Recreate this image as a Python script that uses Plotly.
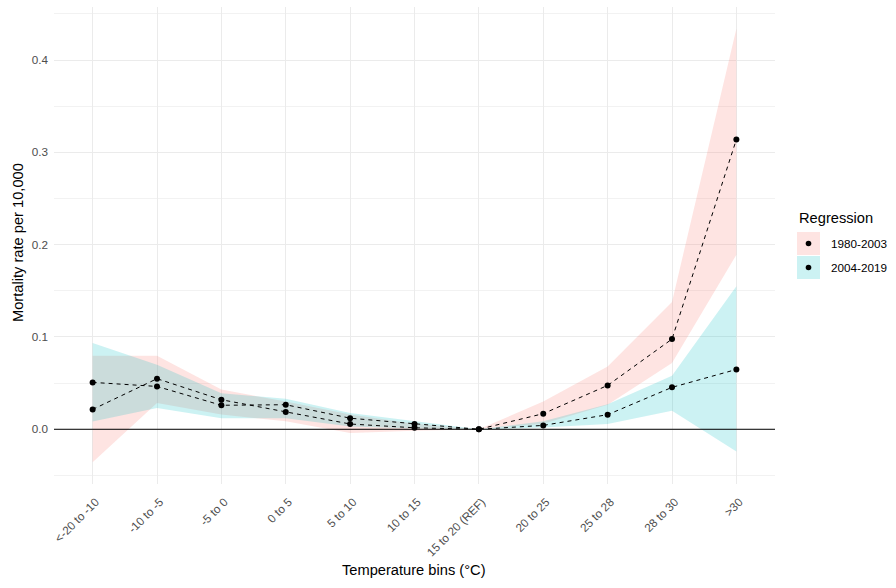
import plotly.graph_objects as go

# ---------------- data ----------------
categories = ["<-20 to -10", "-10 to -5", "-5 to 0", "0 to 5", "5 to 10", "10 to 15",
              "15 to 20 (REF)", "20 to 25", "25 to 28", "28 to 30", ">30"]

est_1980_2003 = [0.0215, 0.0548, 0.032, 0.0187, 0.0057, 0.0016, 0.0, 0.0169, 0.0475, 0.0977, 0.314]
low_1980_2003 = [-0.0358, 0.0285, 0.016, 0.0086, -0.004, -0.0015, 0.0, 0.006, 0.0266, 0.0717, 0.189]
high_1980_2003 = [0.0797, 0.0797, 0.043, 0.030, 0.016, 0.006, 0.0, 0.030, 0.068, 0.138, 0.434]

est_2004_2019 = [0.0508, 0.0464, 0.026, 0.0266, 0.012, 0.0057, 0.0, 0.0042, 0.0158, 0.0454, 0.0648]
low_2004_2019 = [0.0085, 0.023, 0.012, 0.012, 0.003, 0.0008, 0.0, 0.002, 0.0057, 0.020, -0.024]
high_2004_2019 = [0.0934, 0.070, 0.039, 0.033, 0.0176, 0.0086, 0.0, 0.0086, 0.027, 0.058, 0.155]

series_names = ["1980-2003", "2004-2019"]
y_ticks = [0.0, 0.1, 0.2, 0.3, 0.4]

# ---------------- styling ----------------
FONT = "Liberation Sans, Arial, sans-serif"
fills = ["rgba(248,118,109,0.2)", "rgba(0,191,196,0.2)"]
W, H = 896, 588
L, R, T, B = 54, 775, 7, 484   # plot area in pixels


def px(x):
    return (x - L) / (R - L)


def py(y):
    return (B - y) / (B - T)


fig = go.Figure()

series = [
    (est_1980_2003, low_1980_2003, high_1980_2003),
    (est_2004_2019, low_2004_2019, high_2004_2019),
]

# ribbons
for (est, lo, hi), fc in zip(series, fills):
    fig.add_trace(go.Scatter(
        x=categories + categories[::-1],
        y=hi + lo[::-1],
        fill="toself", fillcolor=fc, mode="lines",
        line=dict(width=0, color=fc), hoverinfo="skip", showlegend=False,
    ))

# dashed lines + points
for (est, lo, hi), name in zip(series, series_names):
    fig.add_trace(go.Scatter(
        x=categories, y=est, name=name, mode="lines+markers",
        line=dict(color="black", width=1, dash="4px,4px"),
        marker=dict(color="black", size=6),
        showlegend=False,
    ))

shapes = [
    dict(type="line", xref="paper", yref="y", x0=0, x1=1, y0=0, y1=0,
         line=dict(color="black", width=1), layer="above"),
]
annotations = []

# manual legend (ggplot style)
annotations.append(dict(text="Regression", xref="paper", yref="paper",
                        x=px(797), y=py(218), xanchor="left", yanchor="middle",
                        showarrow=False, font=dict(family=FONT, size=14.67, color="black")))
key_tops = [232, 256]
for i, (name, fc) in enumerate(zip(series_names, fills)):
    top = key_tops[i]
    shapes.append(dict(type="rect", xref="paper", yref="paper",
                       x0=px(797), x1=px(820), y0=py(top + 23), y1=py(top),
                       fillcolor=fc, line=dict(width=0)))
    shapes.append(dict(type="circle", xref="paper", yref="paper",
                       xsizemode="pixel", ysizemode="pixel",
                       xanchor=px(808.5), yanchor=py(top + 11.5),
                       x0=-2.8, x1=2.8, y0=-2.8, y1=2.8,
                       fillcolor="black", line=dict(width=0)))
    annotations.append(dict(text=name, xref="paper", yref="paper",
                            x=px(829), y=py(top + 11.5), xanchor="left", yanchor="middle",
                            showarrow=False, font=dict(family=FONT, size=11.7, color="black")))

# axis titles
annotations.append(dict(text="Temperature bins (°C)", xref="paper", yref="paper",
                        x=px(414), y=py(570), xanchor="center", yanchor="middle",
                        showarrow=False, font=dict(family=FONT, size=14.67, color="black")))
annotations.append(dict(text="Mortality rate per 10,000", xref="paper", yref="paper",
                        x=px(18), y=py(243), xanchor="center", yanchor="middle", textangle=-90,
                        showarrow=False, font=dict(family=FONT, size=14.67, color="black")))

fig.update_layout(
    width=W, height=H,
    margin=dict(l=L, r=W - R, t=T, b=H - B, autoexpand=False),
    paper_bgcolor="white", plot_bgcolor="white",
    font=dict(family=FONT, size=11.7, color="#4D4D4D"),
    shapes=shapes, annotations=annotations,
    showlegend=False,
)
fig.update_xaxes(
    type="category", categoryorder="array", categoryarray=categories,
    range=[-0.6, len(categories) - 0.4],
    showgrid=True, gridcolor="#EBEBEB", gridwidth=1,
    zeroline=False, showline=False, ticks="",
    tickangle=-45, ticklabelstandoff=8, ticklabelshift=3,
    tickfont=dict(family=FONT, size=11.7, color="#4D4D4D"),
)
fig.update_yaxes(
    range=[-0.0593, 0.4575],
    tickvals=y_ticks, ticktext=[f"{v:.1f}" for v in y_ticks],
    showgrid=True, gridcolor="#EBEBEB", gridwidth=1,
    minor=dict(dtick=0.05, tick0=0, showgrid=True, gridcolor="#F2F2F2", gridwidth=1),
    zeroline=False, showline=False, ticks="", ticklabelstandoff=5,
    tickfont=dict(family=FONT, size=11.7, color="#4D4D4D"),
)

fig.write_html("out.html", config={"displayModeBar": False},
               post_script="document.body.style.margin='0px';")
